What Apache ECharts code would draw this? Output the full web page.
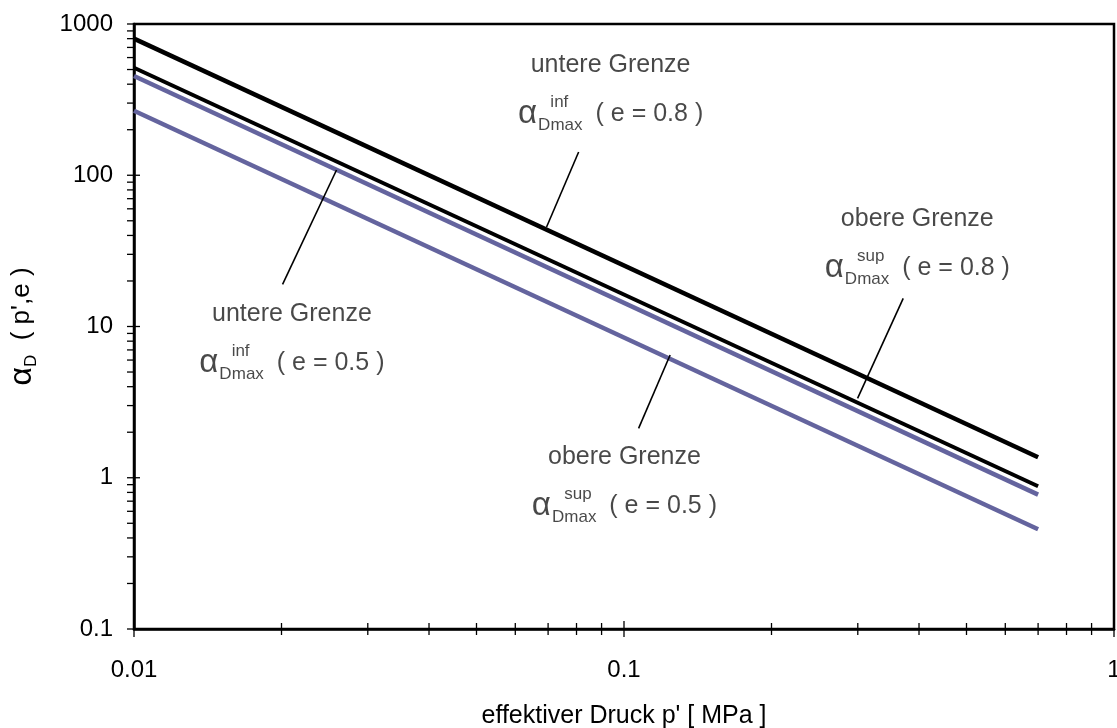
<!DOCTYPE html>
<html>
<head>
<meta charset="utf-8">
<script src="https://cdn.jsdelivr.net/npm/echarts@6/dist/echarts.min.js"></script>
<style>
html,body{margin:0;padding:0;background:#fff;}
#chart{width:1117px;height:728px;}
</style>
</head>
<body>
<div id="chart"></div>
<script>
// ---- data ----
const pressure = [0.01, 0.7];                 // effektiver Druck p' [MPa]
const alphaInfE08 = [800, 1.366];            // untere Grenze, e = 0.8
const alphaSupE08 = [514, 0.878];            // obere Grenze, e = 0.8
const alphaInfE05 = [453, 0.773];            // untere Grenze, e = 0.5
const alphaSupE05 = [267, 0.456];            // obere Grenze, e = 0.5

const xTickLabels = ['0.01', '0.1', '1'];
const yTickLabels = ['0.1', '1', '10', '100', '1000'];
const xMajorTicks = [0.01, 0.1, 1];
const yMajorTicks = [0.1, 1, 10, 100, 1000];
const minorMultipliers = [2, 3, 4, 5, 6, 7, 8, 9];

// annotations (data coordinates)
const annotTitle = ['untere Grenze', 'untere Grenze', 'obere Grenze', 'obere Grenze'];
const annotSup = ['inf', 'inf', 'sup', 'sup'];
const annotE = ['0.8', '0.5', '0.8', '0.5'];
const annotX = [0.0939, 0.0210, 0.3968, 0.1002];
const annotY = [395, 8.92, 37.9, 1.01];
// leader lines: [x1, y1, x2, y2]
const leaderLines = [
  [0.0808, 142.5, 0.0695, 45.5],
  [0.0259, 108.3, 0.0201, 19.0],
  [0.3714, 15.36, 0.2997, 3.35],
  [0.1242, 6.48, 0.1071, 2.12]
];

// ---- build ----
const FONT = '"Liberation Sans", Arial, Helvetica, sans-serif';
const BLUE = '#64649e';
const TXT = '#1a1a1a';
function pairs(xs, ys) { return xs.map((x, i) => [x, ys[i]]); }

const xMin = xMajorTicks[0], yMin = yMajorTicks[0];
const xTickData = [], yTickData = [];
xMajorTicks.forEach((v, i) => {
  xTickData.push([v, yMin, 1]);
  if (i < xMajorTicks.length - 1) minorMultipliers.forEach(m => xTickData.push([v * m, yMin, 0]));
});
yMajorTicks.forEach((v, i) => {
  yTickData.push([xMin, v, 1]);
  if (i < yMajorTicks.length - 1) minorMultipliers.forEach(m => yTickData.push([xMin, v * m, 0]));
});

const annotRich = {
  t: {fontSize: 25, lineHeight: 58, color: TXT, fontFamily: FONT},
  a: {fontSize: 33, lineHeight: 40, color: TXT, fontFamily: FONT, align: 'left'},
  d: {fontSize: 17, lineHeight: 24, verticalAlign: 'bottom', color: TXT, fontFamily: FONT, align: 'left', padding: [0, 0, 0, 1]},
  sp: {fontSize: 17, lineHeight: 14, verticalAlign: 'top', color: TXT, fontFamily: FONT, align: 'left', width: 0.1},
  sb: {fontSize: 17, lineHeight: 12, verticalAlign: 'bottom', color: TXT, fontFamily: FONT, align: 'left'},
  p: {fontSize: 25, lineHeight: 40, color: TXT, fontFamily: FONT, align: 'left', padding: [0, 0, 0, 6]}
};
const annotData = annotX.map((x, i) => ({
  value: [x, annotY[i]],
  label: {
    formatter: '{t|' + annotTitle[i] + '}\n{a|\u03B1}{d|D}{sp|' + annotSup[i] + '}{sb|max}{p| ( e = ' + annotE[i] + ' )}'
  }
}));

function tickRenderer(isX) {
  return function (params, api) {
    const p = api.coord([api.value(0), api.value(1)]);
    const major = api.value(2) === 1;
    let shape;
    if (isX) {
      shape = {x1: p[0], y1: p[1] - (major ? 8 : 6), x2: p[0], y2: p[1] + (major ? 8 : 6)};
    } else {
      shape = {x1: p[0] - 7, y1: p[1], x2: p[0] + (major ? 6 : 0), y2: p[1]};
    }
    return {type: 'line', shape: shape, style: {stroke: '#000', lineWidth: 1.3}};
  };
}

const lineSeries = (name, ys, color, width) => ({
  name: name, type: 'line', data: pairs(pressure, ys), showSymbol: false, symbol: 'none',
  lineStyle: {color: color, width: width}, silent: true, z: 3
});

const chart = echarts.init(document.getElementById('chart'), null, {renderer: 'canvas'});
chart.setOption({
  animation: false,
  backgroundColor: '#fff',
  textStyle: {fontFamily: FONT},
  grid: {left: 134, right: 3, top: 24, bottom: 99, containLabel: false, outerBoundsMode: 'none',
    show: true, borderColor: '#000', borderWidth: 2.5, backgroundColor: 'transparent'},
  xAxis: {
    type: 'log', logBase: 10, min: 0.01, max: 1,
    axisLine: {show: true, lineStyle: {color: '#000', width: 2.5}},
    axisTick: {show: false}, splitLine: {show: false}, minorTick: {show: false},
    axisLabel: {color: '#000', fontSize: 24, fontFamily: FONT, margin: 29, hideOverlap: false,
      formatter: v => { const i = xMajorTicks.findIndex(t => Math.abs(Math.log10(t) - Math.log10(v)) < 1e-6); return i >= 0 ? xTickLabels[i] : ''; }},
    name: "effektiver Druck p' [ MPa ]", nameLocation: 'middle', nameGap: 75,
    nameTextStyle: {color: '#000', fontSize: 25, fontFamily: FONT}
  },
  yAxis: {
    type: 'log', logBase: 10, min: 0.1, max: 1000,
    axisLine: {show: true, lineStyle: {color: '#000', width: 2.5}},
    axisTick: {show: false}, splitLine: {show: false}, minorTick: {show: false},
    axisLabel: {color: '#000', fontSize: 24, fontFamily: FONT, margin: 21,
      formatter: v => { const i = yMajorTicks.findIndex(t => Math.abs(Math.log10(t) - Math.log10(v)) < 1e-6); return i >= 0 ? yTickLabels[i] : ''; }},
    name: "{a|\u03B1}{d|D}{p|  ( p',e )}", nameLocation: 'middle', nameGap: 94, nameRotate: 90,
    nameTextStyle: {color: '#000', fontFamily: FONT, rich: {
      a: {fontSize: 32, fontFamily: FONT, color: '#000', lineHeight: 36},
      d: {fontSize: 17, fontFamily: FONT, color: '#000', verticalAlign: 'bottom', lineHeight: 24},
      p: {fontSize: 26, fontFamily: FONT, color: '#000', lineHeight: 36}
    }}
  },
  series: [
    lineSeries('inf e=0.8', alphaInfE08, '#000', 4.5),
    lineSeries('sup e=0.8', alphaSupE08, '#000', 4),
    lineSeries('inf e=0.5', alphaInfE05, BLUE, 4.5),
    lineSeries('sup e=0.5', alphaSupE05, BLUE, 4.5),
    {
      type: 'line', data: [], silent: true, z: 4,
      markLine: {
        silent: true, symbol: ['none', 'none'], label: {show: false}, animation: false,
        lineStyle: {color: '#000', width: 1.6, type: 'solid'},
        emphasis: {disabled: true},
        data: leaderLines.map(l => [{coord: [l[0], l[1]]}, {coord: [l[2], l[3]]}])
      }
    },
    {
      type: 'scatter', data: annotData, symbolSize: 1, itemStyle: {color: 'rgba(0,0,0,0)'}, silent: true, z: 5,
      label: {show: true, position: 'inside', align: 'center', verticalAlign: 'middle', rich: annotRich}
    },
    {type: 'custom', data: xTickData, renderItem: tickRenderer(true), clip: false, silent: true, z: 6, encode: {x: 0, y: 1}},
    {type: 'custom', data: yTickData, renderItem: tickRenderer(false), clip: false, silent: true, z: 6, encode: {x: 0, y: 1}}
  ]
});
</script>
</body>
</html>
